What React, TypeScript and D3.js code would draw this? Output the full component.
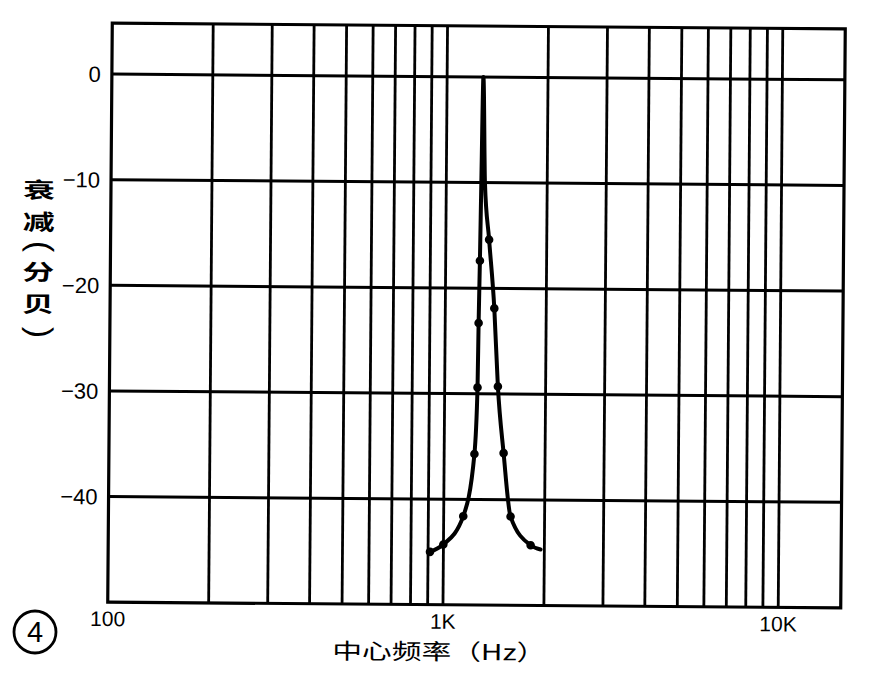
import React from "react";
import * as d3 from "d3";

// ---- data ----
const yTickValues = [0, -10, -20, -30, -40];
const yTickLabels = ["0", "−10", "−20", "−30", "−40"];
const xTickValues = [100, 1000, 10000];
const xTickLabels = ["100", "1K", "10K"];

const curveFreq = [912, 999, 1144, 1231, 1253, 1258, 1265, 1272, 1283, 1304, 1346, 1400, 1441, 1504, 1583, 1820, 1949];
const curveDb = [-45.0, -44.3, -41.6, -35.7, -29.4, -23.3, -17.4, -10, 0, -10, -15.4, -21.9, -29.3, -35.6, -41.6, -44.3, -44.7];

const markerFreq = [912, 999, 1144, 1231, 1253, 1258, 1265, 1346, 1400, 1441, 1504, 1583, 1820];
const markerDb = [-45.0, -44.3, -41.6, -35.7, -29.4, -23.3, -17.4, -15.4, -21.9, -29.3, -35.6, -41.6, -44.3];

const xTitle = "中心频率（Hz）";
const yTitleChars = ["衰", "减", "(", "分", "贝", ")"];
const figLabel = "4";

const W = 872;
const H = 688;
const plot = { left: 110, right: 843, top: 26, bottom: 605 };

export default function App() {
  const x = d3.scaleLog().domain([100, 15360]).range([plot.left, plot.right]);
  const y = d3.scaleLinear().domain([-50, 4.82]).range([plot.bottom, plot.top]);

  const gridX = x.ticks().filter((t) => t > 100 && t <= 10000);

  const pts: [number, number][] = curveFreq.map((f, i) => [x(f), y(curveDb[i])]);
  const line = d3.line().curve(d3.curveMonotoneX)(pts) || "";

  const cx = (plot.left + plot.right) / 2;
  const cy = (plot.top + plot.bottom) / 2;
  const cjk = "'Noto Sans CJK SC', sans-serif";
  const num = "'Liberation Sans', Arial, sans-serif";

  // centres of the stacked y-title glyphs
  const yTitleY = [192, 224, 251, 274, 306, 335];

  return (
    <svg
      width={W}
      height={H}
      style={{ position: "absolute", left: 0, top: 0, display: "block", background: "#fff" }}
    >
      <rect x={0} y={0} width={W} height={H} fill="#fff" />
      <g transform={`rotate(0.45 ${cx} ${cy})`}>
        {/* vertical grid */}
        {gridX.map((t) => (
          <line key={"gx" + t} x1={x(t)} x2={x(t)} y1={plot.top} y2={plot.bottom} stroke="#000" strokeWidth={2.8} />
        ))}
        {/* horizontal grid */}
        {yTickValues.map((v) => (
          <line key={"gy" + v} x1={plot.left} x2={plot.right} y1={y(v)} y2={y(v)} stroke="#000" strokeWidth={3} />
        ))}
        {/* frame */}
        <rect
          x={plot.left}
          y={plot.top}
          width={plot.right - plot.left}
          height={plot.bottom - plot.top}
          fill="none"
          stroke="#000"
          strokeWidth={3.2}
        />
        {/* curve */}
        <path d={line} fill="none" stroke="#000" strokeWidth={4} strokeLinejoin="round" strokeLinecap="round" />
        {markerFreq.map((f, i) => (
          <circle key={"m" + i} cx={x(f)} cy={y(markerDb[i])} r={4.3} fill="#000" />
        ))}

        {/* y tick labels */}
        {yTickValues.map((v, i) => (
          <text
            key={"yl" + v}
            x={plot.left - 11}
            y={y(v) + 8}
            textAnchor="end"
            fontFamily={num}
            fontSize={22}
            fill="#000"
          >
            {yTickLabels[i]}
          </text>
        ))}
        {/* x tick labels */}
        {xTickValues.map((v, i) => (
          <text
            key={"xl" + v}
            x={x(v)}
            y={629}
            textAnchor="middle"
            fontFamily={num}
            fontSize={21}
            fill="#000"
          >
            {xTickLabels[i]}
          </text>
        ))}
        {/* x title */}
        <text
          x={335}
          y={660}
          textLength={214}
          lengthAdjust="spacingAndGlyphs"
          fontFamily={cjk}
          fontSize={22}
          fill="#000"
        >
          {xTitle}
        </text>
        {/* y title, stacked vertically; parentheses turned for vertical writing */}
        {yTitleChars.map((c, i) => {
          const isParen = c === "(" || c === ")";
          return isParen ? (
            <text
              key={"yt" + i}
              x={0}
              y={0}
              transform={`translate(41 ${yTitleY[i] + (c === "(" ? -1 : 1)}) rotate(90)`}
              textAnchor="middle"
              dominantBaseline="central"
              fontFamily={num}
              fontSize={34}
              fill="#000"
            >
              {c}
            </text>
          ) : (
            <text
              key={"yt" + i}
              x={0}
              y={0}
              transform={`translate(38 ${yTitleY[i]}) scale(1.45 1)`}
              textAnchor="middle"
              dominantBaseline="central"
              fontFamily={cjk}
              fontSize={22}
              fontWeight={700}
              fill="#000"
            >
              {c}
            </text>
          );
        })}
      </g>
      {/* figure number */}
      <circle cx={35} cy={632} r={21} fill="none" stroke="#000" strokeWidth={2.8} />
      <text x={35} y={642} textAnchor="middle" fontFamily={num} fontSize={29} fill="#000">
        {figLabel}
      </text>
    </svg>
  );
}
